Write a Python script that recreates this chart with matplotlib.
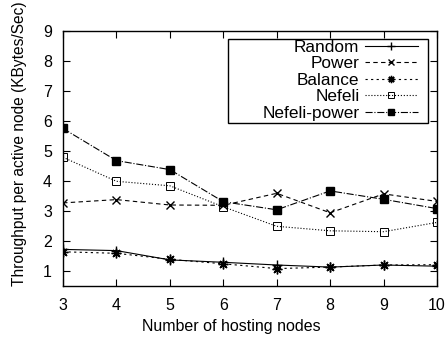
import matplotlib
matplotlib.use('Agg')
import matplotlib.pyplot as plt
from matplotlib.patches import Rectangle

plt.rcParams['font.family'] = ['Liberation Sans', 'DejaVu Sans']

nodes = [3, 4, 5, 6, 7, 8, 9, 10]
random_tp = [1.72, 1.68, 1.37, 1.29, 1.20, 1.13, 1.20, 1.16]
power_tp = [3.27, 3.38, 3.20, 3.19, 3.59, 2.94, 3.57, 3.32]
balance_tp = [1.64, 1.59, 1.39, 1.24, 1.08, 1.13, 1.20, 1.21]
nefeli_tp = [4.79, 3.99, 3.84, 3.14, 2.49, 2.34, 2.31, 2.62]
nefeli_power_tp = [5.75, 4.68, 4.38, 3.31, 3.04, 3.67, 3.39, 3.08]

W, H = 448, 343
fig = plt.figure(figsize=(W / 100, H / 100), dpi=100)
x0, x1, y0, y1 = 63, 437, 31, 286
ax = fig.add_axes([x0 / W, 1 - y1 / H, (x1 - x0) / W, (y1 - y0) / H])

kw = dict(color='black', linewidth=0.8)
ax.plot(nodes, random_tp, '-', marker='+', markersize=7, label='Random', **kw)
ax.plot(nodes, power_tp, '--', marker='x', markersize=6, dashes=(4, 3), label='Power', **kw)
ax.plot(nodes, balance_tp, ':', marker=(8, 2, 0), markersize=7, dashes=(2, 3),
        label='Balance', **kw)
ax.plot(nodes, nefeli_tp, ':', marker='s', markersize=6, markerfacecolor='none',
        markeredgewidth=0.7, label='Nefeli', **kw)
ax.plot(nodes, nefeli_power_tp, '-.', marker='s', markersize=6, label='Nefeli-power', **kw)

ax.set_xlim(3, 10)
ax.set_ylim(0.5, 9)
ax.set_xticks(nodes)
ax.set_yticks(range(1, 10))
ax.tick_params(direction='in', top=True, right=True, length=5, labelsize=11.5)
ax.tick_params(axis='x', pad=9)
ax.tick_params(axis='y', pad=8)
for s in ax.spines.values():
    s.set_linewidth(1.0)


def ax_x(px):
    return (px - x0) / (x1 - x0)


def ax_y(py):
    return 1 - (py - y0) / (y1 - y0)


ax.set_xlabel('Number of hosting nodes', fontsize=11.5)
ax.set_ylabel('Throughput per active node (KBytes/Sec)', fontsize=11.2)
ax.xaxis.set_label_coords(ax_x(231), ax_y(319))
ax.yaxis.set_label_coords(ax_x(27), ax_y(144))

# legend box like gnuplot's key
ax.add_patch(Rectangle((ax_x(228), ax_y(123)), ax_x(428) - ax_x(228), ax_y(39) - ax_y(123),
                       transform=ax.transAxes, fill=False, edgecolor='black',
                       linewidth=1.0, zorder=5))

leg = ax.legend(loc='upper right', bbox_to_anchor=(ax_x(418), ax_y(40)), markerfirst=False,
                fontsize=12.4, frameon=False, borderpad=0,
                labelspacing=0.08, handlelength=3.1, handletextpad=0.3,
                borderaxespad=0, markerscale=0.75)
for t in leg.get_texts():
    t.set_ha('right')
leg._legend_box.align = 'right'

fig.savefig('out.png', dpi=100)
